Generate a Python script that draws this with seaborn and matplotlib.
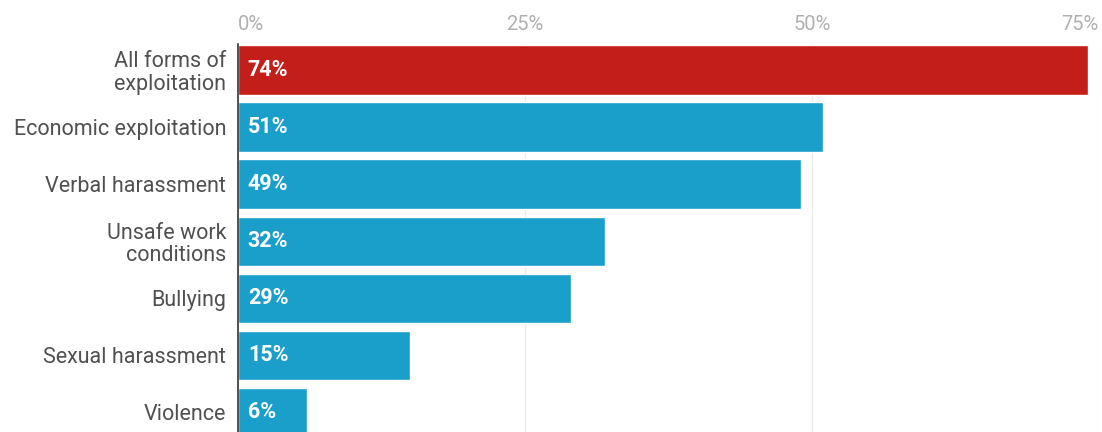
import matplotlib
matplotlib.use("Agg")
import matplotlib.pyplot as plt
import seaborn as sns
import pandas as pd

categories = ["All forms of\nexploitation", "Economic exploitation", "Verbal harassment",
              "Unsafe work\nconditions", "Bullying", "Sexual harassment", "Violence"]
values = [74, 51, 49, 32, 29, 15, 6]
value_labels = ["74%", "51%", "49%", "32%", "29%", "15%", "6%"]
tick_values = [0, 25, 50, 75]
tick_labels = ["0%", "25%", "50%", "75%"]

sns.set_theme(style="white")
plt.rcParams["font.family"] = ["Roboto", "DejaVu Sans"]

df = pd.DataFrame({"cat": categories, "val": values,
                   "grp": ["all"] + ["other"] * (len(categories) - 1)})

W, H = 1102, 432
fig = plt.figure(figsize=(W / 100, H / 100), dpi=100)
ax = fig.add_axes([238 / W, 0, (1099 - 238) / W, 1 - 44 / H])

sns.barplot(data=df, y="cat", x="val", hue="grp", orient="h", dodge=False,
            palette={"all": "#c41e1b", "other": "#1a9fcb"}, width=0.86,
            legend=False, ax=ax, saturation=1)

ax.set_xlim(0, 75)
ax.set_ylim(6.35, -0.456)
ax.set_xlabel("")
ax.set_ylabel("")
for s in ["top", "right", "bottom"]:
    ax.spines[s].set_visible(False)
ax.spines["left"].set_color("#333333")
ax.spines["left"].set_linewidth(1.2)

ax.xaxis.tick_top()
ax.set_xticks(tick_values)
ax.set_xticklabels(tick_labels, color="#b0b0b0", fontsize=14.5)
ax.tick_params(axis="x", length=0, pad=7)
tl = ax.get_xticklabels()
tl[0].set_horizontalalignment("left")
tl[-1].set_horizontalalignment("right")
ax.grid(axis="x", color="#ebebeb", linewidth=1)
ax.set_axisbelow(True)

ax.tick_params(axis="y", length=0, pad=8.5)
for t in ax.get_yticklabels():
    t.set_fontsize(15.5)
    t.set_color("#505050")
    t.set_linespacing(1.1)

for i, lab in enumerate(value_labels):
    ax.text(0.85, i, lab, color="white", fontweight="bold", fontsize=15.5,
            va="center", ha="left")

fig.savefig("out.png", dpi=100)
